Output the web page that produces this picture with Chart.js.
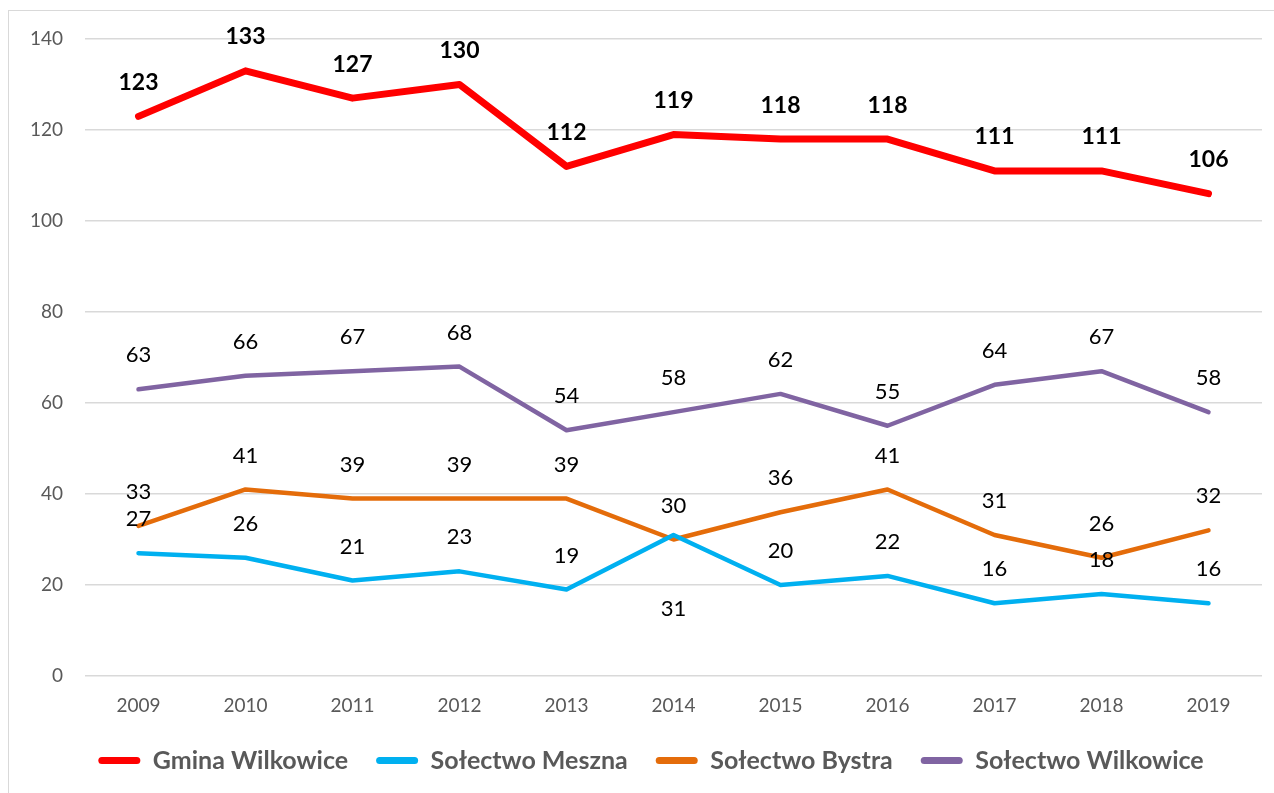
<!DOCTYPE html>
<html lang="pl">

<head>
    <meta charset="UTF-8">
    <title>Wykres</title>
    <script src="https://cdn.jsdelivr.net/npm/chart.js"></script>
    <style>
        body {
            margin: 0;
            background: #fff;
        }

        .container {
            position: relative;
            width: 1274px;
            height: 793px;
        }

        .ramka {
            position: absolute;
            left: 8px;
            top: 10px;
            width: 1300px;
            height: 900px;
            border-left: 1px solid #d9d9d9;
            border-top: 1px solid #d9d9d9;
        }
    </style>
</head>

<body>
    <div class="container">
        <div class="ramka"></div>
        <canvas id="grafico" width="1274" height="793"></canvas>
    </div>
    <script>
        const lata = ['2009', '2010', '2011', '2012', '2013', '2014', '2015', '2016', '2017', '2018', '2019'];
        const gminaWilkowice = [123, 133, 127, 130, 112, 119, 118, 118, 111, 111, 106];
        const solectwoMeszna = [27, 26, 21, 23, 19, 31, 20, 22, 16, 18, 16];
        const solectwoBystra = [33, 41, 39, 39, 39, 30, 36, 41, 31, 26, 32];
        const solectwoWilkowice = [63, 66, 67, 68, 54, 58, 62, 55, 64, 67, 58];

        const fuente = 'Lato, "Liberation Sans", sans-serif';

        // etykiety wartosci nad punktami
        const etykiety = {
            id: 'etykiety',
            afterDatasetsDraw(chart) {
                const ctx = chart.ctx;
                ctx.save();
                ctx.textAlign = 'center';
                ctx.textBaseline = 'middle';
                chart.data.datasets.forEach((ds, i) => {
                    const meta = chart.getDatasetMeta(i);
                    ctx.font = ds.etykietaBold ? 'bold 23px ' + fuente : '22px ' + fuente;
                    ctx.fillStyle = '#000';
                    meta.data.forEach((pt, j) => {
                        let dy = -34;
                        if (ds.ponizej && ds.ponizej.includes(j)) dy = 74;
                        ctx.fillText(ds.data[j], pt.x, pt.y + dy);
                    });
                });
                ctx.restore();
            }
        };

        // legenda troche w prawo
        const przesunLegende = {
            id: 'przesunLegende',
            afterLayout(chart) {
                if (chart.legend) {
                    chart.legend.left += 20;
                    chart.legend.right += 20;
                }
            }
        };

        function serie(label, data, color, width) {
            return {
                label: label,
                data: data,
                borderColor: color,
                backgroundColor: color,
                borderWidth: width,
                pointRadius: 0,
                tension: 0,
                borderCapStyle: 'round',
                borderJoinStyle: 'round'
            };
        }

        const ds1 = serie('Gmina Wilkowice', gminaWilkowice, '#ff0000', 7);
        ds1.etykietaBold = true;
        const ds2 = serie('Sołectwo Meszna', solectwoMeszna, '#00b0f0', 4.5);
        ds2.ponizej = [5];
        const ds3 = serie('Sołectwo Bystra', solectwoBystra, '#e46c0a', 4.5);
        const ds4 = serie('Sołectwo Wilkowice', solectwoWilkowice, '#8064a2', 4.5);

        const ctx = document.getElementById('grafico').getContext('2d');
        new Chart(ctx, {
            type: 'line',
            data: {
                labels: lata,
                datasets: [ds1, ds2, ds3, ds4]
            },
            plugins: [etykiety, przesunLegende],
            options: {
                responsive: false,
                animation: false,
                layout: {
                    padding: { left: 0, right: 12, top: 39, bottom: 10 }
                },
                plugins: {
                    tooltip: { enabled: false },
                    legend: {
                        position: 'bottom',
                        labels: {
                            color: '#595959',
                            font: { family: fuente, size: 25, weight: 'bold' },
                            boxWidth: 42,
                            boxHeight: 7,
                            padding: 28,
                            useBorderRadius: true,
                            borderRadius: 3.5,
                            generateLabels: function (chart) {
                                const items = Chart.defaults.plugins.legend.labels.generateLabels(chart);
                                items.forEach(it => { it.lineWidth = 0; });
                                return items;
                            }
                        }
                    }
                },
                scales: {
                    x: {
                        offset: true,
                        grid: { display: false },
                        border: { display: false },
                        ticks: {
                            color: '#595959',
                            font: { family: fuente, size: 19 },
                            padding: 10
                        },
                        afterFit: function (scale) { scale.height = 44; }
                    },
                    y: {
                        min: 0,
                        max: 140,
                        ticks: {
                            stepSize: 20,
                            color: '#595959',
                            font: { family: fuente, size: 19 },
                            padding: 22
                        },
                        grid: { color: '#d9d9d9', lineWidth: 1.5, drawTicks: false },
                        border: { display: false },
                        afterFit: function (scale) { scale.width = 85; }
                    }
                }
            }
        });
    </script>
</body>

</html>
